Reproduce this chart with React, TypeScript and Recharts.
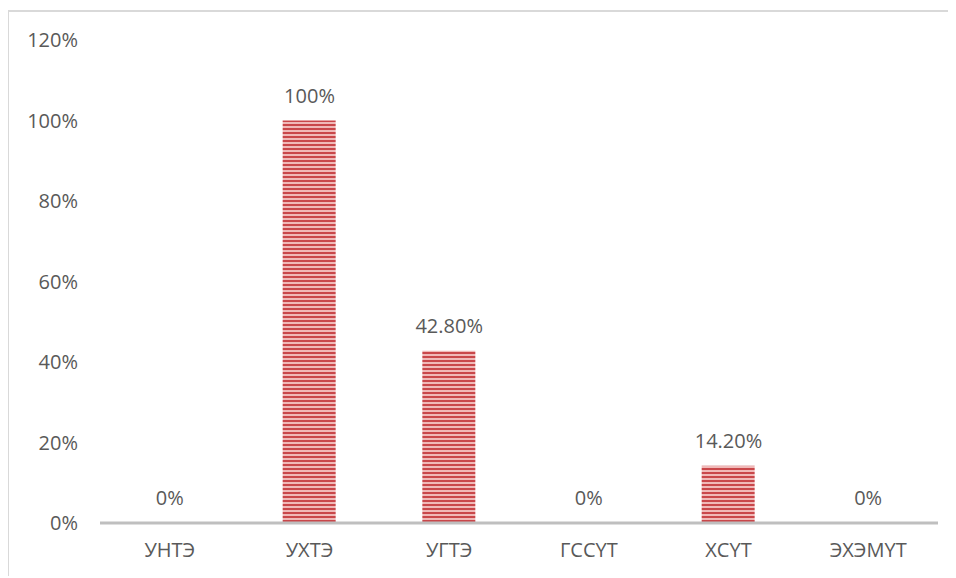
import React from "react";
import { ComposedChart, Bar, Line, XAxis, YAxis, LabelList } from "recharts";

const categories = ["УНТЭ", "УХТЭ", "УГТЭ", "ГССҮТ", "ХСҮТ", "ЭХЭМҮТ"];
const values = [0, 100, 42.8, 0, 14.2, 0];
const valueLabels = ["0%", "100%", "42.80%", "0%", "14.20%", "0%"];
const yTicks = [0, 20, 40, 60, 80, 100, 120];

const data = categories.map((c, i) => ({ name: c, value: values[i], label: valueLabels[i] }));

const FONT = "'Open Sans', 'Noto Sans', sans-serif";
const TEXT = "#595959";
const FS = 20;

export default function App() {
  return (
    <div style={{ position: "relative", width: 956, height: 578, marginLeft: -8, marginTop: -8, overflow: "hidden", background: "#fff" }}>
      <div style={{ position: "absolute", left: 7, top: 10, width: 2, height: 566, background: "#d9d9d9" }} />
      <div style={{ position: "absolute", left: 7, top: 10, width: 960, height: 2, background: "#d9d9d9" }} />
      <div style={{ position: "absolute", left: 0, top: 0 }}>
        <ComposedChart
          width={956}
          height={578}
          data={data}
          margin={{ top: 40, right: 18, bottom: 25, left: 40 }}
        >
          <defs>
            <pattern id="stripes" patternUnits="userSpaceOnUse" width={8} height={4}>
              <rect x={0} y={0} width={8} height={4} fill="#f0b9b8" />
              <rect x={0} y={0} width={8} height={2} fill="#c9474a" />
            </pattern>
          </defs>
          <XAxis
            dataKey="name"
            height={30}
            axisLine={{ stroke: "#bfbfbf", strokeWidth: 3 }}
            tickLine={false}
            tickSize={0}
            tickMargin={20}
            tick={{ fill: TEXT, fontSize: FS, fontFamily: FONT }}
            interval={0}
          />
          <YAxis
            width={60}
            domain={[0, 120]}
            ticks={yTicks}
            tickFormatter={(v: number) => `${v}%`}
            axisLine={false}
            tickLine={false}
            tickSize={0}
            tickMargin={22}
            tick={{ fill: TEXT, fontSize: FS, fontFamily: FONT }}
          />
          <Bar dataKey="value" fill="url(#stripes)" barSize={53} isAnimationActive={false} />
          <Line
            dataKey="value"
            stroke="none"
            dot={false}
            activeDot={false}
            isAnimationActive={false}
          >
            <LabelList
              dataKey="label"
              position="top"
              offset={18}
              fill={TEXT}
              fontSize={FS}
              fontFamily={FONT}
            />
          </Line>
        </ComposedChart>
      </div>
    </div>
  );
}
